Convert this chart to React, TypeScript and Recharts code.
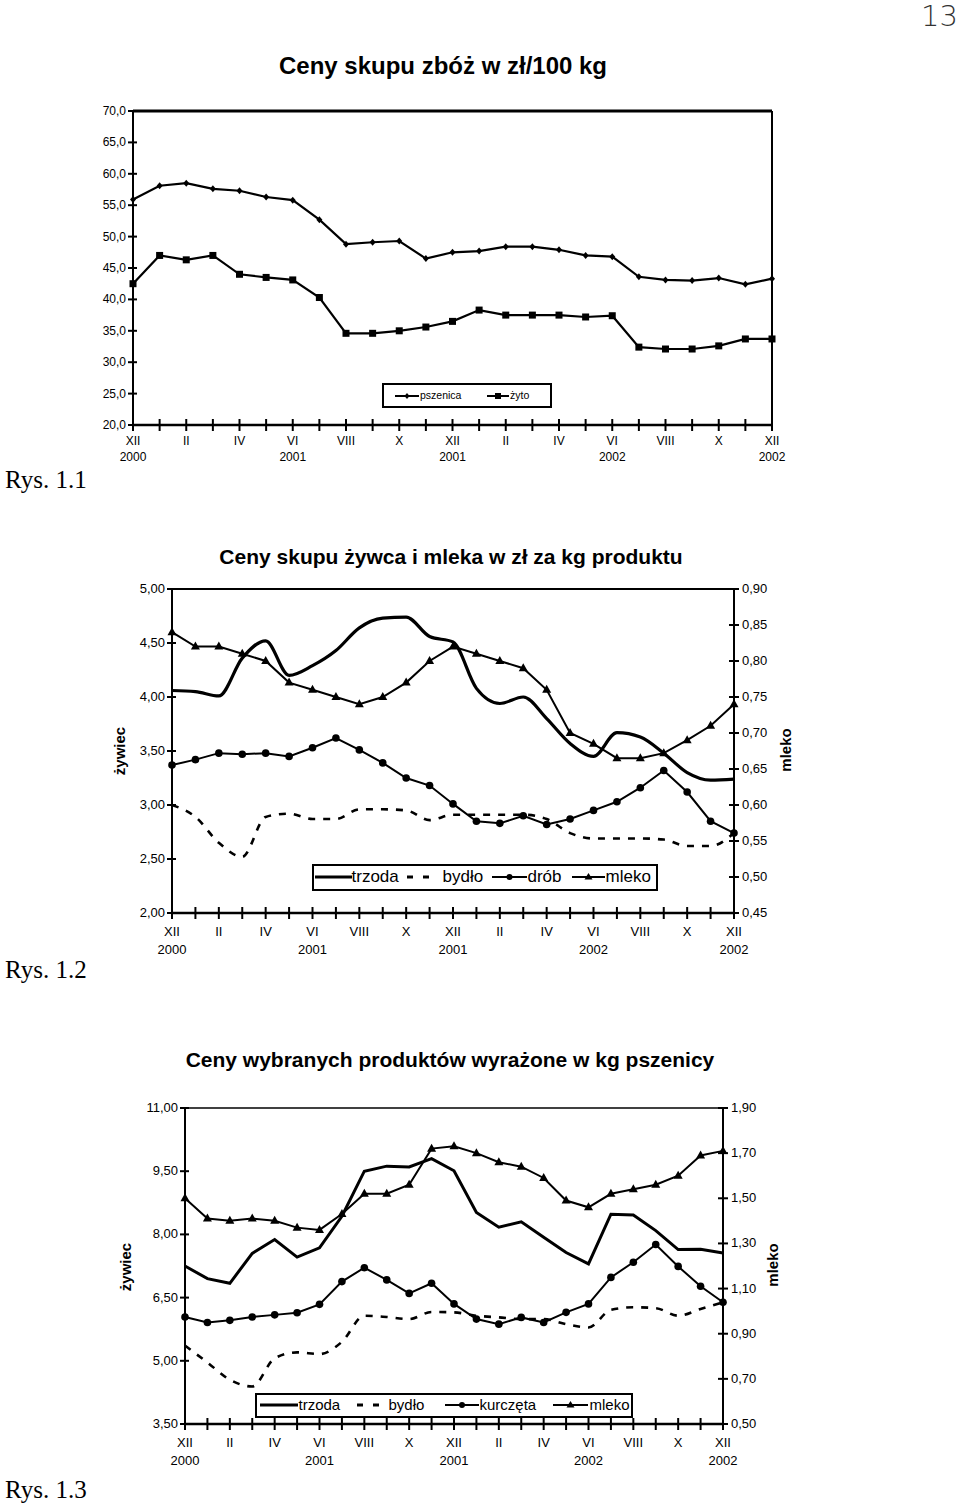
import React from 'react';
import { LineChart, Line, XAxis, YAxis, ReferenceLine } from 'recharts';

// oś czasu: XII 2000 .. XII 2002
const months = ['XII', '', 'II', '', 'IV', '', 'VI', '', 'VIII', '', 'X', '', 'XII', '', 'II', '', 'IV', '', 'VI', '', 'VIII', '', 'X', '', 'XII'];
const years = ['2000', '', '', '', '', '', '2001', '', '', '', '', '', '2001', '', '', '', '', '', '2002', '', '', '', '', '', '2002'];
const monthTicks = months.map((_, i) => i);

// Rys. 1.1 – zboża (zł/100 kg)
const pszenica = [55.9, 58.1, 58.5, 57.6, 57.3, 56.3, 55.8, 52.7, 48.8, 49.1, 49.3, 46.5, 47.5, 47.7, 48.4, 48.4, 47.9, 47.0, 46.8, 43.6, 43.1, 43.0, 43.4, 42.4, 43.3];
const zyto = [42.5, 47.0, 46.3, 47.0, 44.0, 43.5, 43.1, 40.3, 34.6, 34.6, 35.0, 35.6, 36.5, 38.3, 37.5, 37.5, 37.5, 37.2, 37.4, 32.4, 32.1, 32.1, 32.6, 33.7, 33.7];
const ticks1 = [20, 25, 30, 35, 40, 45, 50, 55, 60, 65, 70];

// Rys. 1.2 – żywiec (zł/kg) i mleko
const trzoda2 = [4.06, 4.05, 4.01, 4.36, 4.52, 4.2, 4.29, 4.43, 4.64, 4.73, 4.74, 4.56, 4.51, 4.08, 3.94, 4.0, 3.8, 3.57, 3.45, 3.67, 3.63, 3.48, 3.3, 3.23, 3.24];
const bydlo2 = [3.0, 2.89, 2.65, 2.52, 2.89, 2.92, 2.87, 2.87, 2.96, 2.96, 2.95, 2.86, 2.91, 2.91, 2.91, 2.91, 2.87, 2.74, 2.69, 2.69, 2.69, 2.68, 2.62, 2.62, 2.74];
const drob2 = [3.37, 3.42, 3.48, 3.47, 3.48, 3.45, 3.53, 3.62, 3.51, 3.39, 3.25, 3.18, 3.01, 2.85, 2.83, 2.9, 2.82, 2.87, 2.95, 3.03, 3.16, 3.32, 3.12, 2.85, 2.74];
const mleko2 = [0.84, 0.82, 0.82, 0.81, 0.8, 0.77, 0.76, 0.75, 0.74, 0.75, 0.77, 0.8, 0.82, 0.81, 0.8, 0.79, 0.76, 0.7, 0.685, 0.665, 0.665, 0.672, 0.69, 0.71, 0.74];
const ticks2L = [2.0, 2.5, 3.0, 3.5, 4.0, 4.5, 5.0];
const ticks2R = [0.45, 0.5, 0.55, 0.6, 0.65, 0.7, 0.75, 0.8, 0.85, 0.9];

// Rys. 1.3 – w kg pszenicy
const trzoda3 = [7.25, 6.95, 6.84, 7.55, 7.88, 7.46, 7.68, 8.43, 9.5, 9.62, 9.6, 9.8, 9.51, 8.52, 8.17, 8.3, 7.93, 7.57, 7.3, 8.48, 8.46, 8.09, 7.64, 7.65, 7.56];
const bydlo3 = [5.36, 4.96, 4.55, 4.39, 5.06, 5.2, 5.16, 5.45, 6.07, 6.04, 5.99, 6.16, 6.15, 6.07, 6.03, 5.99, 5.99, 5.87, 5.79, 6.21, 6.27, 6.25, 6.07, 6.23, 6.39];
const kurczeta3 = [6.04, 5.91, 5.96, 6.04, 6.09, 6.14, 6.34, 6.88, 7.21, 6.92, 6.6, 6.84, 6.35, 5.99, 5.87, 6.03, 5.91, 6.15, 6.35, 6.98, 7.34, 7.76, 7.24, 6.77, 6.39];
const mleko3 = [1.5, 1.41, 1.4, 1.41, 1.4, 1.37, 1.36, 1.43, 1.52, 1.52, 1.56, 1.72, 1.73, 1.7, 1.66, 1.64, 1.59, 1.49, 1.46, 1.52, 1.54, 1.56, 1.6, 1.69, 1.71];
const ticks3L = [3.5, 5.0, 6.5, 8.0, 9.5, 11.0];
const ticks3R = [0.5, 0.7, 0.9, 1.1, 1.3, 1.5, 1.7, 1.9];

const data1 = monthTicks.map(i => ({ i, pszenica: pszenica[i], zyto: zyto[i] }));
const data2 = monthTicks.map(i => ({ i, trzoda: trzoda2[i], bydlo: bydlo2[i], drob: drob2[i], mleko: mleko2[i] }));
const data3 = monthTicks.map(i => ({ i, trzoda: trzoda3[i], bydlo: bydlo3[i], kurczeta: kurczeta3[i], mleko: mleko3[i] }));

const FONT = '"Liberation Sans", Arial, sans-serif';
const fmt = (d: number) => (v: number) => v.toFixed(d).replace('.', ',');

const xTick = (monthDy: number, yearDy: number, fs: number) => (props: any) => {
  const { x, y, payload } = props;
  const i = payload.value;
  return (
    <g>
      <line x1={x} x2={x} y1={y - 6} y2={y + 6} stroke="#000" strokeWidth={2} />
      {months[i] && (
        <text x={x} y={y + monthDy} textAnchor="middle" fontSize={fs} fontFamily={FONT} fill="#000">{months[i]}</text>
      )}
      {years[i] && (
        <text x={x} y={y + yearDy} textAnchor="middle" fontSize={fs} fontFamily={FONT} fill="#000">{years[i]}</text>
      )}
    </g>
  );
};

const yTickLeft = (f: (v: number) => string, fs: number) => (props: any) => {
  const { x, y, payload } = props;
  return (
    <g>
      <line x1={x - 5} x2={x + 4} y1={y} y2={y} stroke="#000" strokeWidth={2} />
      <text x={x - 7} y={y + 4} textAnchor="end" fontSize={fs} fontFamily={FONT} fill="#000">{f(payload.value)}</text>
    </g>
  );
};

const yTickRight = (f: (v: number) => string, fs: number) => (props: any) => {
  const { x, y, payload } = props;
  return (
    <g>
      <line x1={x - 5} x2={x + 5} y1={y} y2={y} stroke="#000" strokeWidth={2} />
      <text x={x + 8} y={y + 4} textAnchor="start" fontSize={fs} fontFamily={FONT} fill="#000">{f(payload.value)}</text>
    </g>
  );
};

const diamondDot = (p: any) => (
  <path key={`dm${p.index}`} d={`M${p.cx},${p.cy - 3.5}L${p.cx + 3},${p.cy}L${p.cx},${p.cy + 3.5}L${p.cx - 3},${p.cy}Z`} fill="#000" />
);
const squareDot = (p: any) => (
  <rect key={`sq${p.index}`} x={p.cx - 3.5} y={p.cy - 3.5} width={7} height={7} fill="#000" />
);
const circleDot = (p: any) => <circle key={`c${p.index}`} cx={p.cx} cy={p.cy} r={3.8} fill="#000" />;
const triangleDot = (p: any) => (
  <path key={`t${p.index}`} d={`M${p.cx},${p.cy - 5}L${p.cx + 4.5},${p.cy + 3}L${p.cx - 4.5},${p.cy + 3}Z`} fill="#000" />
);

type Marker = 'line' | 'dash' | 'diamond' | 'square' | 'circle' | 'triangle';

const LegendIcon = ({ w, kind, sw }: { w: number; kind: Marker; sw: number }) => {
  const h = 14;
  const m = w / 2;
  return (
    <svg width={w} height={h} style={{ display: 'block' }}>
      {kind === 'dash' ? (
        <>
          <line x1={0} x2={6} y1={h / 2} y2={h / 2} stroke="#000" strokeWidth={3} />
          <line x1={w - 6} x2={w} y1={h / 2} y2={h / 2} stroke="#000" strokeWidth={3} />
        </>
      ) : (
        <line x1={0} x2={w} y1={h / 2} y2={h / 2} stroke="#000" strokeWidth={sw} />
      )}
      {kind === 'diamond' && <path d={`M${m},${h / 2 - 3}L${m + 2.5},${h / 2}L${m},${h / 2 + 3}L${m - 2.5},${h / 2}Z`} fill="#000" />}
      {kind === 'square' && <rect x={m - 3} y={h / 2 - 3} width={6} height={6} fill="#000" />}
      {kind === 'circle' && <circle cx={m} cy={h / 2} r={3} fill="#000" />}
      {kind === 'triangle' && <path d={`M${m},${h / 2 - 4}L${m + 4},${h / 2 + 2.5}L${m - 4},${h / 2 + 2.5}Z`} fill="#000" />}
    </svg>
  );
};

type LegendItem = { iconX: number; iconW: number; kind: Marker; sw: number; textX: number; label: string };

const LegendBox = ({ left, top, width, height, fs, bw, items }: { left: number; top: number; width: number; height: number; fs: number; bw: number; items: LegendItem[] }) => (
  <div style={{ position: 'absolute', left, top, width, height, border: `${bw}px solid #000`, boxSizing: 'border-box', background: '#fff', fontFamily: FONT, fontSize: fs }}>
    {items.map(it => (
      <React.Fragment key={it.label}>
        <div style={{ position: 'absolute', left: it.iconX - left - bw, top: (height - 2 * bw - 14) / 2 }}>
          <LegendIcon w={it.iconW} kind={it.kind} sw={it.sw} />
        </div>
        <div style={{ position: 'absolute', left: it.textX - left - bw, top: 0, height: height - 2 * bw, lineHeight: `${height - 2 * bw}px`, whiteSpace: 'nowrap' }}>
          {it.label}
        </div>
      </React.Fragment>
    ))}
  </div>
);

const Title = ({ text, cx, cy, fs }: { text: string; cx: number; cy: number; fs: number }) => (
  <div style={{ position: 'absolute', left: cx - 350, width: 700, top: cy - fs * 0.6, textAlign: 'center', fontFamily: FONT, fontWeight: 700, fontSize: fs, lineHeight: `${fs * 1.2}px` }}>
    {text}
  </div>
);

const Rys = ({ text, cy }: { text: string; cy: number }) => (
  <div style={{ position: 'absolute', left: 5, top: cy - 15, fontFamily: '"Liberation Serif", "Times New Roman", serif', fontSize: 25, lineHeight: '30px' }}>
    {text}
  </div>
);

const VLabel = ({ text, cx, cy }: { text: string; cx: number; cy: number }) => (
  <div style={{ position: 'absolute', left: cx - 40, top: cy - 10, width: 80, height: 20, lineHeight: '20px', textAlign: 'center', transform: 'rotate(-90deg)', fontFamily: FONT, fontWeight: 700, fontSize: 15 }}>
    {text}
  </div>
);

const axisStyle = { stroke: '#000', strokeWidth: 2 };

export default function App() {
  return (
    <div style={{ position: 'absolute', left: 0, top: 0, width: 960, height: 1505, background: '#fff', overflow: 'hidden' }}>
      <div style={{ position: 'absolute', right: 2, top: 0, fontFamily: '"DejaVu Sans", sans-serif', fontWeight: 200, fontSize: 29, color: '#333', lineHeight: '32px' }}>13</div>

      {/* Rys. 1.1 */}
      <Title text="Ceny skupu zbóż w zł/100 kg" cx={443} cy={66} fs={24} />
      <div style={{ position: 'absolute', left: 0, top: 0 }}>
        <LineChart width={960} height={480} data={data1} margin={{ top: 111, right: 188, bottom: 25, left: 73 }}>
          <XAxis dataKey="i" type="number" domain={[0, 24]} ticks={monthTicks} interval={0} height={30} tickSize={0} tickMargin={0} tickLine={false} axisLine={{ stroke: '#000', strokeWidth: 2.5 }} tick={xTick(20, 36, 12)} />
          <YAxis domain={[20, 70]} ticks={ticks1} interval={0} width={60} tickSize={0} tickMargin={0} tickLine={false} axisLine={axisStyle} tick={yTickLeft(fmt(1), 12)} />
          <ReferenceLine y={70} stroke="#000" strokeWidth={3} />
          <ReferenceLine x={24} stroke="#000" strokeWidth={2} />
          <Line type="linear" dataKey="pszenica" stroke="#000" strokeWidth={2.2} dot={diamondDot} isAnimationActive={false} />
          <Line type="linear" dataKey="zyto" stroke="#000" strokeWidth={2.2} dot={squareDot} isAnimationActive={false} />
        </LineChart>
      </div>
      <LegendBox left={382} top={383} width={170} height={25} fs={10.5} bw={2}
        items={[
          { iconX: 395, iconW: 24, kind: 'diamond', sw: 2, textX: 420, label: 'pszenica' },
          { iconX: 487, iconW: 22, kind: 'square', sw: 2, textX: 510, label: 'żyto' },
        ]} />
      <Rys text="Rys. 1.1" cy={480} />

      {/* Rys. 1.2 */}
      <Title text="Ceny skupu żywca i mleka w zł za kg produktu" cx={451} cy={557} fs={21} />
      <div style={{ position: 'absolute', left: 0, top: 480 }}>
        <LineChart width={960} height={500} data={data2} margin={{ top: 109, right: 166, bottom: 37, left: 112 }}>
          <XAxis dataKey="i" type="number" domain={[0, 24]} ticks={monthTicks} interval={0} height={30} tickSize={0} tickMargin={0} tickLine={false} axisLine={{ stroke: '#000', strokeWidth: 2.5 }} tick={xTick(23, 41, 13)} />
          <YAxis yAxisId="left" domain={[2, 5]} ticks={ticks2L} interval={0} width={60} tickSize={0} tickMargin={0} tickLine={false} axisLine={axisStyle} tick={yTickLeft(fmt(2), 13)} />
          <YAxis yAxisId="right" orientation="right" domain={[0.45, 0.9]} ticks={ticks2R} interval={0} width={60} tickSize={0} tickMargin={0} tickLine={false} axisLine={axisStyle} tick={yTickRight(fmt(2), 13)} />
          <ReferenceLine yAxisId="left" y={5} stroke="#000" strokeWidth={2} />
          <Line yAxisId="left" type="monotone" dataKey="trzoda" stroke="#000" strokeWidth={3.2} dot={false} isAnimationActive={false} />
          <Line yAxisId="left" type="monotone" dataKey="bydlo" stroke="#000" strokeWidth={2.6} strokeDasharray="7 8" dot={false} isAnimationActive={false} />
          <Line yAxisId="left" type="linear" dataKey="drob" stroke="#000" strokeWidth={2} dot={circleDot} isAnimationActive={false} />
          <Line yAxisId="right" type="linear" dataKey="mleko" stroke="#000" strokeWidth={2} dot={triangleDot} isAnimationActive={false} />
        </LineChart>
      </div>
      <LegendBox left={312} top={864} width={346} height={27} fs={17} bw={2.5}
        items={[
          { iconX: 315, iconW: 37, kind: 'line', sw: 3, textX: 352, label: 'trzoda' },
          { iconX: 407, iconW: 22, kind: 'dash', sw: 3, textX: 443, label: 'bydło' },
          { iconX: 492, iconW: 35, kind: 'circle', sw: 2, textX: 528, label: 'drób' },
          { iconX: 572, iconW: 33, kind: 'triangle', sw: 2, textX: 606, label: 'mleko' },
        ]} />
      <VLabel text="żywiec" cx={120} cy={751} />
      <VLabel text="mleko" cx={786} cy={750} />
      <Rys text="Rys. 1.2" cy={970} />

      {/* Rys. 1.3 */}
      <Title text="Ceny wybranych produktów wyrażone w kg pszenicy" cx={450} cy={1060} fs={21} />
      <div style={{ position: 'absolute', left: 0, top: 980 }}>
        <LineChart width={960} height={525} data={data3} margin={{ top: 128, right: 177, bottom: 51, left: 125 }}>
          <XAxis dataKey="i" type="number" domain={[0, 24]} ticks={monthTicks} interval={0} height={30} tickSize={0} tickMargin={0} tickLine={false} axisLine={{ stroke: '#000', strokeWidth: 2.5 }} tick={xTick(23, 41, 13)} />
          <YAxis yAxisId="left" domain={[3.5, 11]} ticks={ticks3L} interval={0} width={60} tickSize={0} tickMargin={0} tickLine={false} axisLine={axisStyle} tick={yTickLeft(fmt(2), 13)} />
          <YAxis yAxisId="right" orientation="right" domain={[0.5, 1.9]} ticks={ticks3R} interval={0} width={60} tickSize={0} tickMargin={0} tickLine={false} axisLine={axisStyle} tick={yTickRight(fmt(2), 13)} />
          <ReferenceLine yAxisId="left" y={11} stroke="#000" strokeWidth={1.5} />
          <Line yAxisId="left" type="linear" dataKey="trzoda" stroke="#000" strokeWidth={3} dot={false} isAnimationActive={false} />
          <Line yAxisId="left" type="monotone" dataKey="bydlo" stroke="#000" strokeWidth={2.6} strokeDasharray="7 8" dot={false} isAnimationActive={false} />
          <Line yAxisId="left" type="linear" dataKey="kurczeta" stroke="#000" strokeWidth={2} dot={circleDot} isAnimationActive={false} />
          <Line yAxisId="right" type="linear" dataKey="mleko" stroke="#000" strokeWidth={2} dot={triangleDot} isAnimationActive={false} />
        </LineChart>
      </div>
      <LegendBox left={255} top={1393} width={378} height={25} fs={15} bw={2.5}
        items={[
          { iconX: 260, iconW: 38, kind: 'line', sw: 3, textX: 299, label: 'trzoda' },
          { iconX: 357, iconW: 22, kind: 'dash', sw: 3, textX: 389, label: 'bydło' },
          { iconX: 445, iconW: 34, kind: 'circle', sw: 2, textX: 480, label: 'kurczęta' },
          { iconX: 553, iconW: 35, kind: 'triangle', sw: 2, textX: 590, label: 'mleko' },
        ]} />
      <VLabel text="żywiec" cx={126} cy={1267} />
      <VLabel text="mleko" cx={773} cy={1265} />
      <Rys text="Rys. 1.3" cy={1490} />
    </div>
  );
}
